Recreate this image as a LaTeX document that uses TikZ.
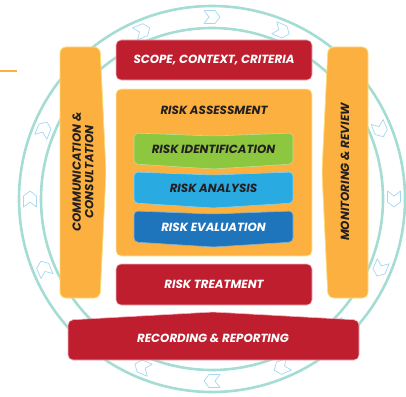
\documentclass[tikz,border=0pt]{standalone}
\usepackage{fontspec}
\setmainfont{Poppins}
\usepackage{tikz}

\definecolor{riskred}{HTML}{BE1E2D}
\definecolor{riskpink}{HTML}{F3B3BE}
\definecolor{riskorange}{HTML}{FBB040}
\definecolor{riskyellow}{HTML}{FFDB7A}
\definecolor{riskgreen}{HTML}{8DC63F}
\definecolor{riskblue}{HTML}{29ABE2}
\definecolor{riskdblue}{HTML}{1F75BC}
\definecolor{ringteal}{HTML}{A5DCD4}
\definecolor{chevblue}{HTML}{A6D7F3}
\definecolor{inkdark}{HTML}{231F20}

\begin{document}
\begin{tikzpicture}[x=1pt,y=1pt,yscale=-1,
    lbl/.style={font=\bfseries\itshape\fontsize{11.8}{12.5}\selectfont},
    redbox/.style={lbl,fill=riskred,draw=riskpink,line width=0.6pt,rounded corners=5pt,text=white},
    colbox/.style={fill=riskorange,draw=riskyellow,line width=0.8pt,rounded corners=6pt},
    ring/.style={draw=ringteal,line width=2.6pt},
    chev/.style={draw=chevblue,fill=white,line width=0.7pt,line join=round}]
    \useasboundingbox (0,0) rectangle (406,396);

    % rings with the clockwise chevrons
    \coordinate (O) at (212,199);
    \draw[ring] (O) circle (193);
    \draw[ring] (O) circle (171);
    \foreach \k in {0,...,15}{
        \pgfmathsetmacro\a{270+22.5*\k}
        \begin{scope}[shift={(212,199)},shift={(\a:182)},rotate=\a+90]
            \draw[chev] (-8,-6.5) -- (3,-6.5) -- (8,0) -- (3,6.5) -- (-8,6.5) -- (-3,0) -- cycle;
        \end{scope}
    }
    \draw[riskorange,line width=1.5pt] (0,71) -- (17,71);

    % side columns
    \draw[colbox] (60,47) -- (100,47) -- (106,172) -- (100,298) -- (60,298) -- cycle;
    \draw[colbox] (328,47) -- (368,47) -- (368,298) -- (328,298) -- (322,172) -- cycle;
    \node[lbl,text=inkdark,rotate=90,align=center] (C) at (83,172) {COMMUNICATION \&\\CONSULTATION};
    \node[lbl,text=inkdark,rotate=90] (M) at (345,172) {MONITORING \& REVIEW};

    % middle column
    \node[redbox,minimum width=196pt,minimum height=40pt] (S) at (214,60) {SCOPE, CONTEXT, CRITERIA};
    \node[fill=riskorange,draw=riskyellow!60!white,line width=0.6pt,rounded corners=5pt,
          minimum width=196pt,minimum height=167pt] (A) at (214,172.5) {};
    \node[lbl,text=inkdark] (AT) at (214,110) {RISK ASSESSMENT};
    \foreach \t/\c/\tc/\txt/\n in {133/riskgreen/inkdark/RISK IDENTIFICATION/I,
                                  172/riskblue/inkdark/RISK ANALYSIS/N,
                                  211/riskdblue/white/RISK EVALUATION/E}{
        \draw[fill=\c,draw=\c!55!white,line width=0.6pt,rounded corners=4pt]
            (134,\t) -- (213.5,\t+3) -- (293,\t) -- (293,\t+31) -- (213.5,\t+36) -- (134,\t+31) -- cycle;
        \node[lbl,text=\tc] (\n) at (213.5,\t+16) {\txt};
    }
    \node[redbox,minimum width=196pt,minimum height=41pt] (T) at (214,284.5) {RISK TREATMENT};

    % bottom band
    \draw[fill=riskred,draw=riskpink,line width=0.6pt,rounded corners=5pt]
        (68,320) -- (213,312) -- (359,320) -- (359,360) -- (68,360) -- cycle;
    \node[lbl,text=white] (R) at (213,338) {RECORDING \& REPORTING};
\end{tikzpicture}
\end{document}
